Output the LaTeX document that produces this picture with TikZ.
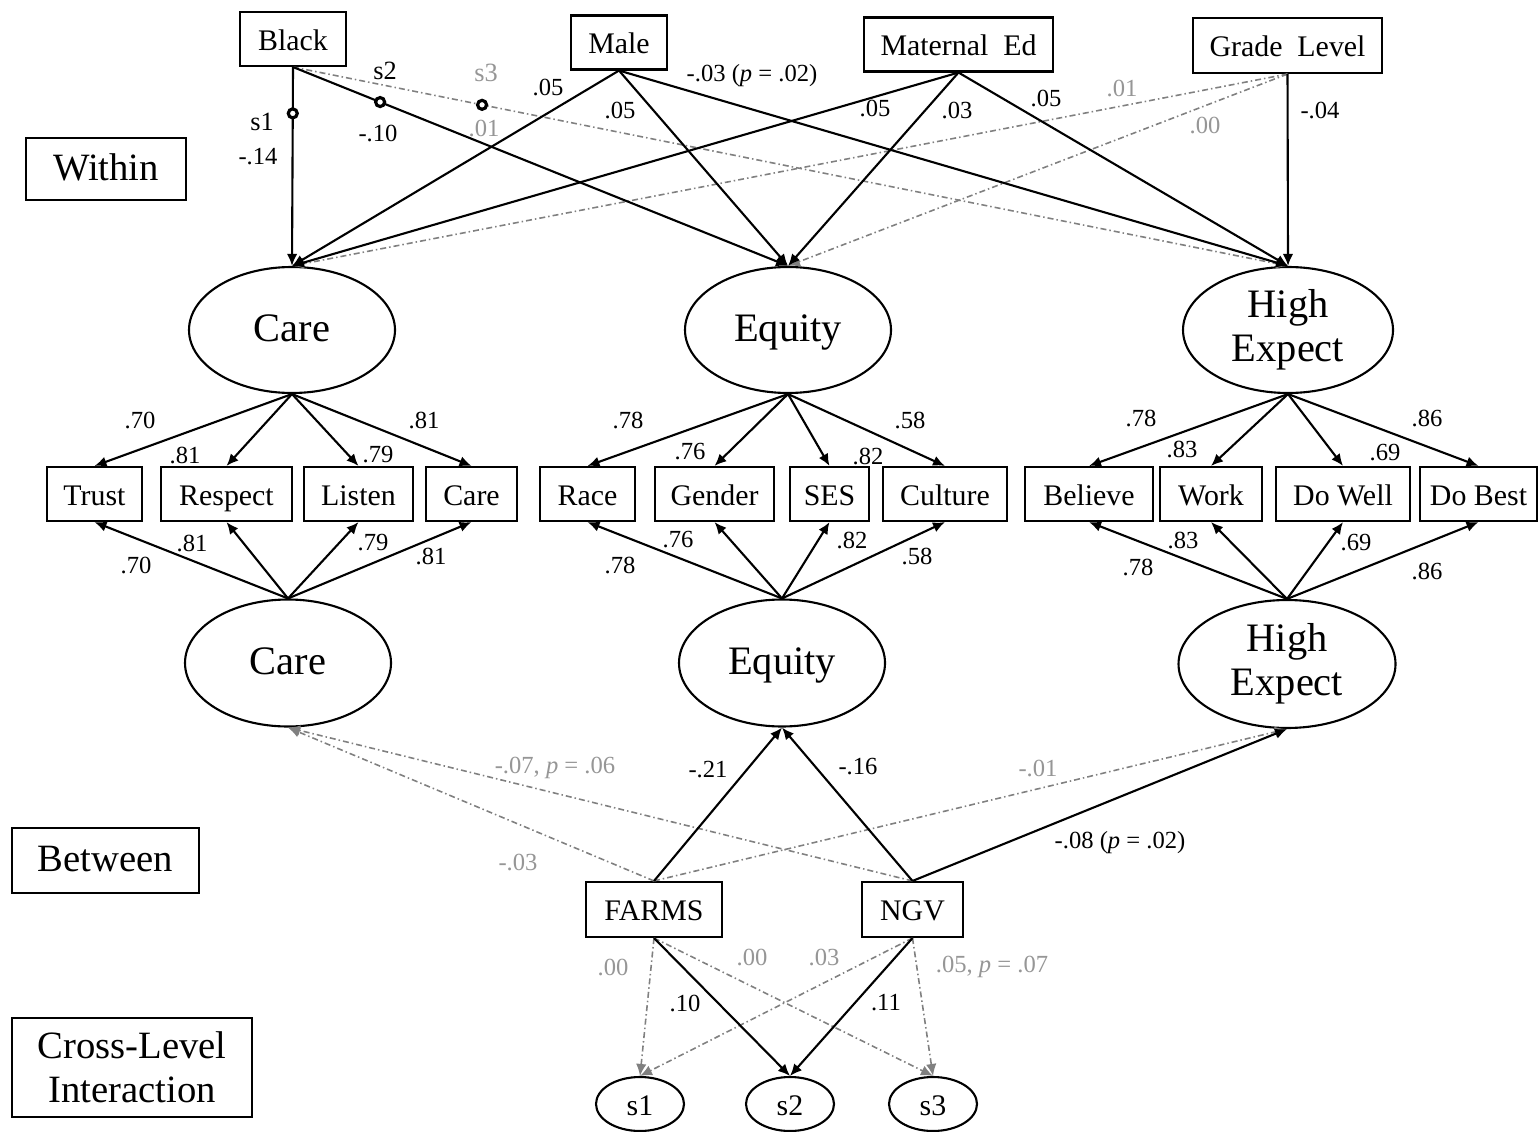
\documentclass[tikz,border=0pt]{standalone}
\usepackage{fontspec}
\setmainfont{Liberation Serif}
\usepackage{tikz}
\usetikzlibrary{arrows.meta}
\usetikzlibrary{shapes.geometric}

\definecolor{nsline}{RGB}{128,128,128}
\definecolor{nstext}{RGB}{150,150,150}

\tikzset{
  obs/.style={draw,line width=0.6pt,rectangle,minimum height=5.4mm,inner sep=0pt,
    text height=1.5ex,text depth=0.1ex,font=\fontsize{8.5}{10}\selectfont},
  lat/.style={draw,line width=0.6pt,ellipse,inner sep=0pt,minimum width=20.6mm,
    minimum height=12.6mm,align=center,font=\fontsize{11.5}{12.5}\selectfont},
  latone/.style={lat,text height=1.5ex,text depth=0.1ex},
  slope/.style={draw,line width=0.6pt,ellipse,inner sep=0pt,minimum width=8.8mm,
    minimum height=5.4mm,text height=1.5ex,text depth=0.1ex,font=\fontsize{8.5}{10}\selectfont},
  levelbox/.style={draw,line width=0.6pt,rectangle,inner sep=0pt,align=center,
    font=\fontsize{11}{12.5}\selectfont},
  sig/.style={line width=0.6pt,-{Latex[length=1.2mm,width=1.05mm]}},
  ns/.style={sig,nsline,line width=0.45pt,dash pattern=on 0.6mm off 0.3mm on 0.15mm off 0.3mm},
  coef/.style={inner sep=0pt,font=\fontsize{7}{8}\selectfont},
  nscoef/.style={coef,text=nstext},
  knotmark/.style={draw=black,solid,circle,fill=white,line width=0.9pt,minimum size=0.9mm,inner sep=0pt},
}

\begin{document}
\begin{tikzpicture}[x=0.1mm,y=-0.1mm]
    \useasboundingbox (0,0) rectangle (1538,1131);
    % levels
    \node[levelbox,minimum width=16mm,minimum height=6.2mm,text height=1.5ex,text depth=0.1ex] (within) at (106,169) {Within};
    \node[levelbox,minimum width=18.7mm,minimum height=6.5mm,text height=1.5ex,text depth=0.1ex] (between) at (105.5,860.5) {Between};
    \node[levelbox,minimum width=24mm,minimum height=9.9mm] (cross) at (132,1067.5) {Cross-Level\\Interaction};
    %
    % within covariates
    \node[obs,minimum width=10.6mm] (black) at (293,39) {Black};
    \node[obs,minimum width=9.6mm] (male) at (619,42.5) {Male};
    \node[obs,minimum width=18.9mm] (mated) at (958.5,44.5) {Maternal~ Ed};
    \node[obs,minimum width=18.9mm,minimum height=5.5mm] (grade) at (1287.5,45.5) {Grade~ Level};
    %
    % latent factors
    \node[latone] (careW) at (292,330) {Care};
    \node[latone] (equityW) at (788,330) {Equity};
    \node[lat,minimum width=21mm] (highW) at (1288,330) {High\\Expect};
    \node[latone,minimum height=12.7mm] (careB) at (288,663) {Care};
    \node[latone,minimum height=12.7mm] (equityB) at (782,663) {Equity};
    \node[lat,minimum width=21.7mm,minimum height=12.8mm] (highB) at (1287,664) {High\\Expect};
    %
    % indicators
    \node[obs,minimum width=9.5mm] (trust) at (94.5,494) {Trust};
    \node[obs,minimum width=13.1mm] (respect) at (226.5,494) {Respect};
    \node[obs,minimum width=10.9mm] (listen) at (358.5,494) {Listen};
    \node[obs,minimum width=9.1mm] (care) at (471.5,494) {Care};
    \node[obs,minimum width=9.5mm] (race) at (587.5,494) {Race};
    \node[obs,minimum width=11.9mm] (gender) at (714.5,494) {Gender};
    \node[obs,minimum width=7.9mm] (ses) at (829.5,494) {SES};
    \node[obs,minimum width=12.4mm] (culture) at (945,494) {Culture};
    \node[obs,minimum width=12.8mm] (believe) at (1089,494) {Believe};
    \node[obs,minimum width=10.2mm] (work) at (1211,494) {Work};
    \node[obs,minimum width=13.4mm] (dowell) at (1343,494) {Do Well};
    \node[obs,minimum width=11.7mm] (dobest) at (1478.5,494) {Do Best};
    %
    % between covariates and random slopes
    \node[obs,minimum width=13.6mm,minimum height=5.5mm] (farms) at (654,909.5) {FARMS};
    \node[obs,minimum width=10.1mm,minimum height=5.5mm] (ngv) at (912.5,909.5) {NGV};
    \node[slope] (s1) at (640,1104) {s1};
    \node[slope] (s2) at (790,1104) {s2};
    \node[slope] (s3) at (933,1104) {s3};
    %
    % within paths
    \draw[ns] (black.south) -- (highW.north) node[knotmark,pos=0.19] (m3) {};
    \draw[ns] (grade.south) -- (careW.north);
    \draw[ns] (grade.south) -- (equityW.north);
    \draw[sig] (black.south) -- (careW.north) node[knotmark,pos=0.233] (m1) {};
    \draw[sig] (black.south) -- (equityW.north) node[knotmark,pos=0.176] (m2) {};
    \draw[sig] (male.south) -- (careW.north);
    \draw[sig] (male.south) -- (equityW.north);
    \draw[sig] (male.south) -- (highW.north);
    \draw[sig] (mated.south) -- (careW.north);
    \draw[sig] (mated.south) -- (equityW.north);
    \draw[sig] (mated.south) -- (highW.north);
    \draw[sig] (grade.south) -- (highW.north);
    \node[coef,font=\fontsize{7.5}{8}\selectfont] (ls1) at (262,122) {s1};
    \node[coef] (lb1) at (258,157) {-.14};
    \node[coef,font=\fontsize{7.5}{8}\selectfont] (ls2) at (385,71) {s2};
    \node[coef] (lb2) at (378,133) {-.10};
    \node[nscoef,font=\fontsize{7.5}{8}\selectfont] (ls3) at (486,73) {s3};
    \node[nscoef] (lb3) at (484,128) {.01};
    \node[coef] (lm1) at (548,87) {.05};
    \node[coef] (lm2) at (620,110) {.05};
    \node[coef] (lm3) at (752,76) {-.03 (\textit{p} = .02)};
    \node[coef] (le1) at (875,108) {.05};
    \node[coef] (le2) at (957,110) {.03};
    \node[coef] (le3) at (1046,98) {.05};
    \node[nscoef] (lg1) at (1122,88) {.01};
    \node[nscoef] (lg2) at (1205,125) {.00};
    \node[coef] (lg3) at (1320,110) {-.04};
    %
    % measurement, within
    \draw[sig] (careW.south) -- (trust.north);
    \draw[sig] (careW.south) -- (respect.north);
    \draw[sig] (careW.south) -- (listen.north);
    \draw[sig] (careW.south) -- (care.north);
    \draw[sig] (equityW.south) -- (race.north);
    \draw[sig] (equityW.south) -- (gender.north);
    \draw[sig] (equityW.south) -- (ses.north);
    \draw[sig] (equityW.south) -- (culture.north);
    \draw[sig] (highW.south) -- (believe.north);
    \draw[sig] (highW.south) -- (work.north);
    \draw[sig] (highW.south) -- (dowell.north);
    \draw[sig] (highW.south) -- (dobest.north);
    \node[coef] (wc1) at (140,420) {.70};
    \node[coef] (wc2) at (185,455) {.81};
    \node[coef] (wc3) at (378,455) {.79};
    \node[coef] (wc4) at (424,420) {.81};
    \node[coef] (we1) at (628,420) {.78};
    \node[coef] (we2) at (690,452) {.76};
    \node[coef] (we3) at (868,456) {.82};
    \node[coef] (we4) at (910,420) {.58};
    \node[coef] (wh1) at (1141,418) {.78};
    \node[coef] (wh2) at (1182,449) {.83};
    \node[coef] (wh3) at (1385,453) {.69};
    \node[coef] (wh4) at (1427,418) {.86};
    %
    % measurement, between
    \draw[sig] (careB.north) -- (trust.south);
    \draw[sig] (careB.north) -- (respect.south);
    \draw[sig] (careB.north) -- (listen.south);
    \draw[sig] (careB.north) -- (care.south);
    \draw[sig] (equityB.north) -- (race.south);
    \draw[sig] (equityB.north) -- (gender.south);
    \draw[sig] (equityB.north) -- (ses.south);
    \draw[sig] (equityB.north) -- (culture.south);
    \draw[sig] (highB.north) -- (believe.south);
    \draw[sig] (highB.north) -- (work.south);
    \draw[sig] (highB.north) -- (dowell.south);
    \draw[sig] (highB.north) -- (dobest.south);
    \node[coef] (bc1) at (136,565) {.70};
    \node[coef] (bc2) at (192,543) {.81};
    \node[coef] (bc3) at (373,543) {.79};
    \node[coef] (bc4) at (431,556) {.81};
    \node[coef] (be1) at (620,565) {.78};
    \node[coef] (be2) at (678,540) {.76};
    \node[coef] (be3) at (852,540) {.82};
    \node[coef] (be4) at (917,556) {.58};
    \node[coef] (bh1) at (1138,567) {.78};
    \node[coef] (bh2) at (1183,540) {.83};
    \node[coef] (bh3) at (1356,543) {.69};
    \node[coef] (bh4) at (1427,571) {.86};
    %
    % between paths
    \draw[ns] (farms.north) -- (careB.south);
    \draw[ns] (ngv.north) -- (careB.south);
    \draw[ns] (farms.north) -- (highB.south);
    \draw[sig] (farms.north) -- (equityB.south);
    \draw[sig] (ngv.north) -- (equityB.south);
    \draw[sig] (ngv.north) -- (highB.south);
    \node[coef] (lf1) at (708,770) {-.21};
    \node[coef] (ln1) at (858,767) {-.16};
    \node[coef] (ln2) at (1120,843) {-.08 (\textit{p} = .02)};
    \node[nscoef] (lf2) at (518,862) {-.03};
    \node[nscoef] (ln3) at (555,768) {-.07, \textit{p} = .06};
    \node[nscoef] (lf3) at (1038,768) {-.01};
    %
    % cross-level paths
    \draw[ns] (farms.south) -- (s1.north);
    \draw[ns] (farms.south) -- (s3.north);
    \draw[ns] (ngv.south) -- (s1.north);
    \draw[ns] (ngv.south) -- (s3.north);
    \draw[sig] (farms.south) -- (s2.north);
    \draw[sig] (ngv.south) -- (s2.north);
    \node[nscoef] (xf1) at (613,967) {.00};
    \node[coef] (xf2) at (685,1003) {.10};
    \node[nscoef] (xf3) at (752,957) {.00};
    \node[nscoef] (xn1) at (824,957) {.03};
    \node[coef] (xn2) at (886,1003) {.11};
    \node[nscoef] (xn3) at (992,967) {.05, \textit{p} = .07};
\end{tikzpicture}
\end{document}
